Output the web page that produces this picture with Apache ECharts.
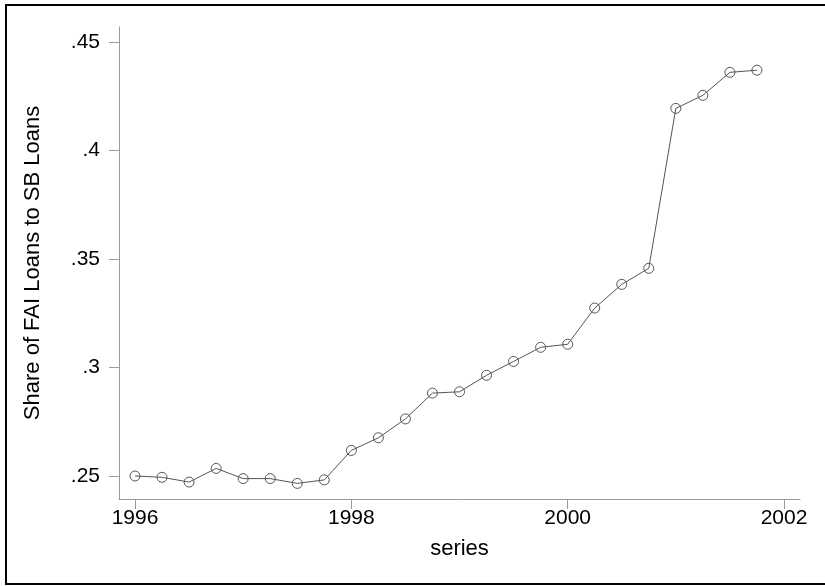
<!DOCTYPE html>
<html>
<head>
<meta charset="utf-8">
<title>Share of FAI Loans to SB Loans</title>
<script src="https://cdn.jsdelivr.net/npm/echarts@6/dist/echarts.min.js"></script>
<style>
  html, body { margin: 0; padding: 0; background: #fff; }
  #chart { width: 825px; height: 586px; }
</style>
</head>
<body>
<div id="chart"></div>
<script>
// quarterly observations
const quarters = [
  1996.0, 1996.25, 1996.5, 1996.75,
  1997.0, 1997.25, 1997.5, 1997.75,
  1998.0, 1998.25, 1998.5, 1998.75,
  1999.0, 1999.25, 1999.5, 1999.75,
  2000.0, 2000.25, 2000.5, 2000.75,
  2001.0, 2001.25, 2001.5, 2001.75,
];
const shares = [
  0.2500, 0.2494, 0.2472, 0.2535,
  0.2488, 0.2488, 0.2466, 0.2482,
  0.2618, 0.2676, 0.2763, 0.2882,
  0.2888, 0.2964, 0.3028, 0.3093,
  0.3107, 0.3274, 0.3383, 0.3457,
  0.4194, 0.4254, 0.4360, 0.4370,
];
const xTicks = [1996, 1998, 2000, 2002];
const yTicks = [0.25, 0.3, 0.35, 0.4, 0.45];

const font = "'Liberation Sans', Arial, Helvetica, sans-serif";
const axisGray = "#9a9a9a";

const chart = echarts.init(document.getElementById("chart"));

chart.setOption({
  animation: false,
  backgroundColor: "#fff",
  textStyle: { fontFamily: font },
  grid: { left: 119, right: 25, top: 27, bottom: 87 },
  graphic: [
    {
      type: "rect",
      shape: { x: 6, y: 5, width: 900, height: 579 },
      style: { fill: null, stroke: "#000", lineWidth: 2 },
      silent: true,
    },
  ],
  xAxis: {
    type: "value",
    min: 1995.852,
    max: 2002.148,
    name: "series",
    nameLocation: "middle",
    nameGap: 39,
    nameTextStyle: { fontSize: 22, color: "#000", fontFamily: font },
    axisLine: { onZero: false, lineStyle: { color: axisGray, width: 1 } },
    axisTick: { show: true, length: 10, customValues: xTicks, lineStyle: { color: axisGray } },
    axisLabel: {
      customValues: xTicks,
      margin: 9,
      fontSize: 21,
      color: "#000",
      fontFamily: font,
      formatter: (v) => String(v),
    },
    splitLine: { show: false },
  },
  yAxis: {
    type: "value",
    min: 0.2394,
    max: 0.4569,
    name: "Share of FAI Loans to SB Loans",
    nameLocation: "middle",
    nameGap: 75,
    nameTextStyle: { fontSize: 22, color: "#000", fontFamily: font },
    axisLine: { show: true, onZero: false, lineStyle: { color: axisGray, width: 1 } },
    axisTick: { show: true, length: 10, customValues: yTicks, lineStyle: { color: axisGray } },
    axisLabel: {
      customValues: yTicks,
      margin: 19,
      fontSize: 21,
      color: "#000",
      fontFamily: font,
      formatter: (v) => String(+v.toFixed(2)).replace(/^0/, ""),
    },
    splitLine: { show: false },
  },
  series: [
    {
      type: "line",
      data: quarters.map((q, i) => [q, shares[i]]),
      symbol: "circle",
      symbolSize: 10,
      showSymbol: true,
      // hollow circles, the connecting line shows through them
      itemStyle: { color: "rgba(0,0,0,0)", borderColor: "#555", borderWidth: 1 },
      lineStyle: { color: "#555", width: 1 },
      emphasis: { disabled: true },
    },
  ],
});
</script>
</body>
</html>
